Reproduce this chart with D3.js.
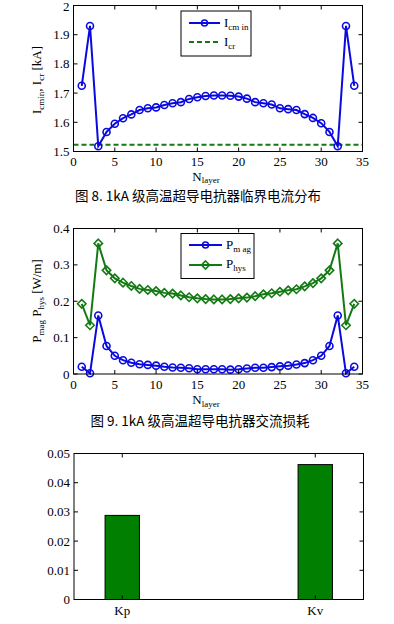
<!DOCTYPE html>
<html><head><meta charset="utf-8">
<script src="https://cdn.jsdelivr.net/npm/d3@7/dist/d3.min.js"></script>
<style>
body{margin:0;background:#fff;}
svg{display:block;}
text{font-family:"Liberation Serif","DejaVu Serif",serif;fill:#000;}
.cap{font-family:"Noto Sans CJK SC",sans-serif;}
</style></head><body>
<script>
const layers = d3.range(1,35);
const icmin = [1.725,1.93,1.518,1.567,1.595,1.614,1.627,1.642,1.648,1.651,1.659,1.665,1.669,1.680,1.686,1.690,1.692,1.692,1.691,1.688,1.681,1.669,1.665,1.661,1.648,1.645,1.642,1.628,1.615,1.597,1.567,1.518,1.93,1.725];
const icr = 1.523;
const pmag = [0.020,0.002,0.161,0.077,0.050,0.038,0.031,0.027,0.025,0.023,0.020,0.018,0.017,0.016,0.013,0.013,0.013,0.013,0.012,0.013,0.015,0.017,0.017,0.019,0.021,0.023,0.026,0.030,0.038,0.050,0.077,0.161,0.002,0.020];
const phys = [0.193,0.134,0.359,0.285,0.263,0.251,0.242,0.234,0.231,0.228,0.223,0.221,0.216,0.211,0.208,0.206,0.205,0.205,0.206,0.208,0.210,0.214,0.219,0.222,0.226,0.230,0.233,0.241,0.250,0.263,0.285,0.359,0.134,0.193];
const barCats = ["Kp","Kv"];
const barVals = [0.0288,0.0462];
const xTicks = [0,5,10,15,20,25,30,35];
const y1Ticks = [1.5,1.6,1.7,1.8,1.9,2];
const y2Ticks = [0,0.1,0.2,0.3,0.4];
const y3Ticks = [0,0.01,0.02,0.03,0.04,0.05];

const BLUE="#0a0ae0", GREEN="#137a13";
const svg = d3.select("body").append("svg").attr("width",394).attr("height",624);

function frame(g, x, y, xt, yt, yfmt, tickLen){
  const [x0,x1]=x.range(), [y0,y1]=y.range();
  xt.forEach(v=>{
    const px=x(v);
    g.append("line").attr("x1",px).attr("x2",px).attr("y1",y0).attr("y2",y0-tickLen).attr("stroke","#000");
    g.append("line").attr("x1",px).attr("x2",px).attr("y1",y1).attr("y2",y1+tickLen).attr("stroke","#000");
  });
  yt.forEach(v=>{
    const py=y(v);
    g.append("line").attr("x1",x0).attr("x2",x0+tickLen).attr("y1",py).attr("y2",py).attr("stroke","#000");
    g.append("line").attr("x1",x1).attr("x2",x1-tickLen).attr("y1",py).attr("y2",py).attr("stroke","#000");
    g.append("text").attr("x",x0-4).attr("y",Math.max(py+4.5,11)).attr("text-anchor","end").attr("font-size",13).text(yfmt(v));
  });
  g.append("rect").attr("x",x0).attr("y",y1).attr("width",x1-x0).attr("height",y0-y1).attr("fill","none").attr("stroke","#000").attr("stroke-width",1);
}

function diamond(g,cx,cy,r,color){
  g.append("path").attr("d",`M${cx},${cy-r}L${cx+r},${cy}L${cx},${cy+r}L${cx-r},${cy}Z`).attr("fill","none").attr("stroke",color).attr("stroke-width",1.6);
}

// ---------- Chart 1 ----------
{
  const g=svg.append("g");
  const x=d3.scaleLinear().domain([0,35]).range([73.5,362.5]);
  const y=d3.scaleLinear().domain([1.5,2]).range([151.5,5.5]);
  g.append("line").attr("x1",x(0)).attr("x2",x(35)).attr("y1",y(icr)).attr("y2",y(icr)).attr("stroke",GREEN).attr("stroke-width",2).attr("stroke-dasharray","5,3");
  const line=d3.line().x((d,i)=>x(layers[i])).y(d=>y(d));
  g.append("path").attr("d",line(icmin)).attr("fill","none").attr("stroke",BLUE).attr("stroke-width",2);
  icmin.forEach((v,i)=>g.append("circle").attr("cx",x(layers[i])).attr("cy",y(v)).attr("r",3.5).attr("fill","none").attr("stroke",BLUE).attr("stroke-width",1.6));
  frame(g,x,y,xTicks,y1Ticks,d3.format(".1~f"),4);
  g.selectAll(null).data(xTicks).enter().append("text").attr("x",d=>x(d)).attr("y",166).attr("text-anchor","middle").attr("font-size",13).text(d=>d);
  g.append("rect").attr("x",181).attr("y",11).attr("width",70).attr("height",45).attr("fill","#fff").attr("stroke","#000");
  g.append("line").attr("x1",189).attr("x2",220).attr("y1",23).attr("y2",23).attr("stroke",BLUE).attr("stroke-width",2);
  g.append("circle").attr("cx",204.5).attr("cy",23).attr("r",3).attr("fill","none").attr("stroke",BLUE).attr("stroke-width",1.6);
  g.append("line").attr("x1",189).attr("x2",220).attr("y1",42).attr("y2",42).attr("stroke",GREEN).attr("stroke-width",2).attr("stroke-dasharray","5,3");
  let t=g.append("text").attr("x",224).attr("y",27).attr("font-size",13);
  t.append("tspan").text("I"); t.append("tspan").attr("font-size",9).attr("dy",3).text("cm in");
  t=g.append("text").attr("x",224).attr("y",46).attr("font-size",13);
  t.append("tspan").text("I"); t.append("tspan").attr("font-size",9).attr("dy",3).text("cr");
  t=g.append("text").attr("x",206).attr("y",180.5).attr("text-anchor","middle").attr("font-size",13);
  t.append("tspan").text("N"); t.append("tspan").attr("font-size",9).attr("dy",2.5).text("layer");
  t=g.append("text").attr("transform","translate(41,80) rotate(-90)").attr("text-anchor","middle").attr("font-size",13);
  t.append("tspan").text("I"); t.append("tspan").attr("font-size",9).attr("dy",3).text("cmin");
  t.append("tspan").attr("dy",-3).text(", I"); t.append("tspan").attr("font-size",9).attr("dy",3).text("cr");
  t.append("tspan").attr("dy",-3).text(" [kA]");
  g.append("text").attr("class","cap").attr("x",198).attr("y",201).attr("text-anchor","middle").attr("font-size",13.5).text("图 8. 1kA 级高温超导电抗器临界电流分布");
}

// ---------- Chart 2 ----------
{
  const g=svg.append("g");
  const x=d3.scaleLinear().domain([0,35]).range([73.5,362.5]);
  const y=d3.scaleLinear().domain([0,0.4]).range([374,228.5]);
  const line=d3.line().x((d,i)=>x(layers[i])).y(d=>y(d));
  g.append("path").attr("d",line(phys)).attr("fill","none").attr("stroke",GREEN).attr("stroke-width",2);
  phys.forEach((v,i)=>diamond(g,x(layers[i]),y(v),4.2,GREEN));
  g.append("path").attr("d",line(pmag)).attr("fill","none").attr("stroke",BLUE).attr("stroke-width",2);
  pmag.forEach((v,i)=>g.append("circle").attr("cx",x(layers[i])).attr("cy",y(v)).attr("r",3.5).attr("fill","none").attr("stroke",BLUE).attr("stroke-width",1.6));
  frame(g,x,y,xTicks,y2Ticks,d3.format(".1~f"),4);
  g.selectAll(null).data(xTicks).enter().append("text").attr("x",d=>x(d)).attr("y",389).attr("text-anchor","middle").attr("font-size",13).text(d=>d);
  g.append("rect").attr("x",181).attr("y",233.5).attr("width",73).attr("height",45).attr("fill","#fff").attr("stroke","#000");
  g.append("line").attr("x1",189).attr("x2",222).attr("y1",245).attr("y2",245).attr("stroke",BLUE).attr("stroke-width",2);
  g.append("circle").attr("cx",205.5).attr("cy",245).attr("r",3).attr("fill","none").attr("stroke",BLUE).attr("stroke-width",1.6);
  g.append("line").attr("x1",189).attr("x2",222).attr("y1",265).attr("y2",265).attr("stroke",GREEN).attr("stroke-width",2);
  diamond(g,205.5,265,4,GREEN);
  let t=g.append("text").attr("x",226).attr("y",249).attr("font-size",13);
  t.append("tspan").text("P"); t.append("tspan").attr("font-size",9).attr("dy",3).text("m ag");
  t=g.append("text").attr("x",226).attr("y",268).attr("font-size",13);
  t.append("tspan").text("P"); t.append("tspan").attr("font-size",9).attr("dy",3).text("hys");
  t=g.append("text").attr("x",206).attr("y",404).attr("text-anchor","middle").attr("font-size",13);
  t.append("tspan").text("N"); t.append("tspan").attr("font-size",9).attr("dy",2.5).text("layer");
  t=g.append("text").attr("transform","translate(41,301) rotate(-90)").attr("text-anchor","middle").attr("font-size",13);
  t.append("tspan").text("P"); t.append("tspan").attr("font-size",9).attr("dy",3).text("mag");
  t.append("tspan").attr("dy",-3).text(" P"); t.append("tspan").attr("font-size",9).attr("dy",3).text("hys");
  t.append("tspan").attr("dy",-3).text(" [W/m]");
  g.append("text").attr("class","cap").attr("x",200).attr("y",426).attr("text-anchor","middle").attr("font-size",13.5).text("图 9. 1kA 级高温超导电抗器交流损耗");
}

// ---------- Chart 3 ----------
{
  const g=svg.append("g");
  const x=d3.scaleLinear().domain([0.75,2.25]).range([74,363.5]);
  const y=d3.scaleLinear().domain([0,0.05]).range([599.5,453.5]);
  const bw=0.178;
  barVals.forEach((v,i)=>{
    g.append("rect").attr("x",x(i+1-bw/2)).attr("y",y(v)).attr("width",x(i+1+bw/2)-x(i+1-bw/2)).attr("height",y(0)-y(v)).attr("fill","#007f00").attr("stroke","#000").attr("stroke-width",1);
  });
  frame(g,x,y,[1,2],y3Ticks,d=>d===0?"0":d3.format(".2f")(d),4);
  barCats.forEach((c,i)=>g.append("text").attr("x",x(i+1)).attr("y",615).attr("text-anchor","middle").attr("font-size",13).text(c));
}
</script>
</body></html>
